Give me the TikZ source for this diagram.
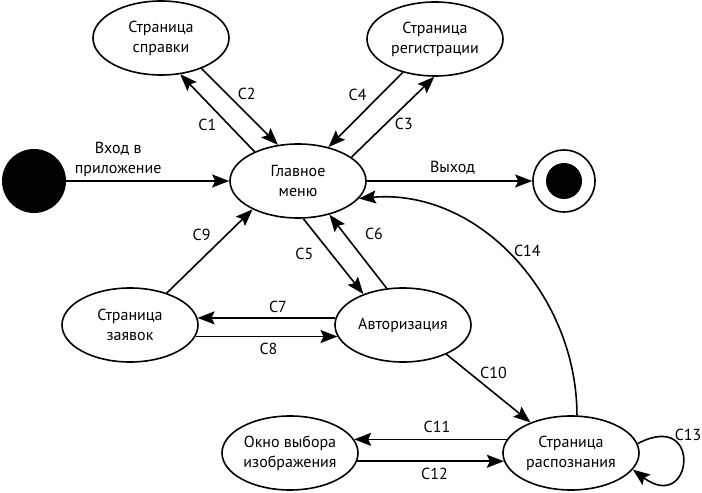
\documentclass[tikz,border=0pt]{standalone}
\usepackage{fontspec}
\setmainfont{PT Sans}
\usetikzlibrary{arrows.meta,shapes.geometric}
\tikzset{
  screen/.style={ellipse, draw, line width=1.6pt, fill=white, align=center, minimum width=136pt, minimum height=74pt, inner sep=0pt, font=\fontsize{16}{20}\selectfont},
  startdot/.style={circle, fill=black, minimum size=64pt, inner sep=0pt},
  enddot/.style={circle, draw, line width=1.6pt, minimum size=62pt, inner sep=0pt, path picture={\fill (path picture bounding box.center) circle (18pt);}},
  arrow/.style={-{Stealth[length=17pt,width=13pt,inset=3pt]}, line width=1.6pt},
  edgelabel/.style={font=\fontsize{16}{20}\selectfont, inner sep=1pt, align=center}
}

\begin{document}
\begin{tikzpicture}[x=1pt,y=1pt]
\useasboundingbox (0,0) rectangle (702,493);
\node[startdot] (start) at (34,312) {};
\node[screen] (main) at (298,312) {Главное\\меню};
\node[enddot] (finish) at (564,312) {};
\node[screen] (help) at (161,455) {Страница\\справки};
\node[screen] (reg) at (435,454) {Страница\\регистрации};
\node[screen] (orders) at (130,168) {Страница\\заявок};
\node[screen] (auth) at (403,168) {Авторизация};
\node[screen] (picker) at (290,40) {Окно выбора\\изображения};
\node[screen] (recog) at (571,40) {Страница\\распознания};
\draw[arrow] (start) -- node[edgelabel,xshift=-29.5pt,yshift=22pt]{Вход в\\приложение} (main);
\draw[arrow] (main) -- node[edgelabel,xshift=3pt,yshift=13pt]{Выход} (finish);
\foreach \a/\b/\dx/\dy/\lbl in {main.146/help.-62/-10/-11.5/C1, help.-37/main.119/7/12.5/C2, main.24/reg.-91/11/-6.5/C3, reg.-134/main.48/-8/15/C4, main.-82/auth.142/-29/2/C5, auth.114/main.-47/16/18/C6, auth.174/orders.6/11.5/11/C7, orders.-10/auth.-170/2/-12/C8, orders.41/main.-148/-8/16/C9, auth.-34/recog.143/5/15.5/C10, recog.168/picker.12/6.5/12/C11, picker.-7/recog.-173/4/-13/C12}
  {\draw[arrow] (\a) -- node[edgelabel,xshift=\dx pt,yshift=\dy pt]{\lbl} (\b);}
\draw[arrow] (recog.8) .. controls +(66,35) and +(60,-45) .. node[edgelabel,pos=.3,xshift=11pt,yshift=7pt]{C13} (recog.-15);
\draw[arrow] (recog.81) to[out=90,in=5] node[edgelabel,xshift=14.5pt,yshift=7pt]{C14} (main.-16);
\end{tikzpicture}
\end{document}
